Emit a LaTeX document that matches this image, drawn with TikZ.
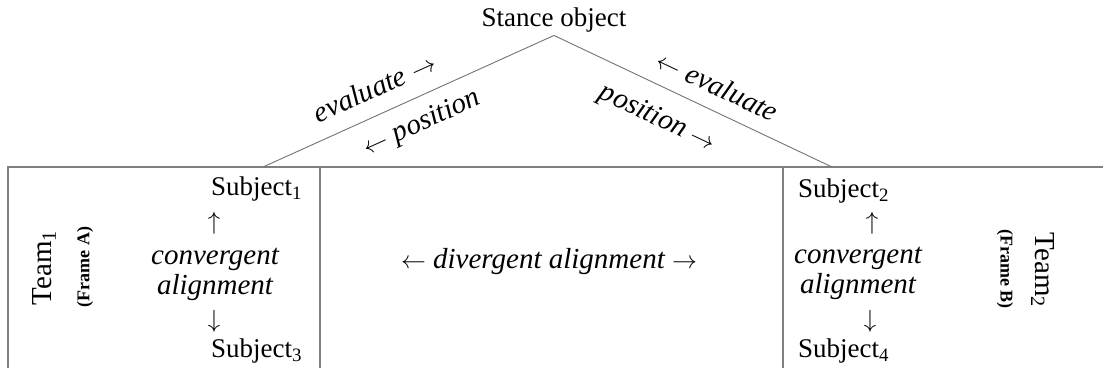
\documentclass[tikz,border=0pt]{standalone}
\usepackage{fontspec}
\setmainfont{Liberation Serif}
\usepackage{tikz}
\usepackage{xcolor}

\tikzset{
    plain/.style={font=\fontsize{27}{29}\selectfont, inner sep=3pt},
    slant/.style={font=\fontsize{29}{30}\selectfont\itshape, inner sep=3pt},
    teamlbl/.style={font=\fontsize{29}{31}\selectfont, inner sep=2pt},
    framelbl/.style={font=\fontsize{18}{20}\selectfont\bfseries, inner sep=2pt},
    boxline/.style={draw=black!50, line width=1.6pt},
    diag/.style={draw=black!55, line width=0.9pt}
}
\newcommand{\ra}{\ensuremath{\rightarrow}}
\newcommand{\la}{\ensuremath{\leftarrow}}

\begin{document}
\begin{tikzpicture}[x=1pt, y=-1pt]
    \useasboundingbox (0,0) rectangle (1103,368);

    % the object and the two feet of the triangle
    \node[plain] (stance) at (554,20) {Stance object};
    \coordinate (lfoot) at (263,167);
    \coordinate (rfoot) at (832,167);

    % frame of the two teams
    \draw[boxline] (8,368) -- (8,167) -- (1103,167);
    \draw[boxline] (320,167) -- (320,368);
    \draw[boxline] (783,167) -- (783,368);

    \draw[diag] (lfoot) -- (stance.south)
        node[slant, pos=0.42, sloped, above=13pt] {evaluate \ra}
        node[slant, pos=0.51, sloped, below=10pt] {\la\ position};
    \draw[diag] (stance.south) -- (rfoot)
        node[slant, pos=0.55, sloped, above=11pt] {\la\ evaluate}
        node[slant, pos=0.42, sloped, below=15pt] {position \ra};

    % team one
    \node[teamlbl, rotate=90] (team1) at (44,268) {Team\textsubscript{1}};
    \node[framelbl, rotate=90] (frameA) at (85,267) {(Frame A)};
    \node[plain, anchor=west] (sub1) at (208,189) {Subject\textsubscript{1}};
    \node[plain] (up1) at (214,223) {\(\uparrow\)};
    \node[slant, align=center] (conv1) at (215,274) {convergent\\alignment};
    \node[plain] (down1) at (214,321) {\(\downarrow\)};
    \node[plain, anchor=west] (sub3) at (208,351) {Subject\textsubscript{3}};

    % between the teams
    \node[slant] (diverge) at (549,262) {\la\ divergent alignment \ra};

    % team two
    \node[plain, anchor=west] (sub2) at (795,191) {Subject\textsubscript{2}};
    \node[plain] (up2) at (872,223) {\(\uparrow\)};
    \node[slant, align=center] (conv2) at (858,273) {convergent\\alignment};
    \node[plain] (down2) at (870,321) {\(\downarrow\)};
    \node[plain, anchor=west] (sub4) at (795,351) {Subject\textsubscript{4}};
    \node[framelbl, rotate=-90] (frameB) at (1005,269) {(Frame B)};
    \node[teamlbl, rotate=-90] (team2) at (1043,270) {Team\textsubscript{2}};
\end{tikzpicture}
\end{document}
